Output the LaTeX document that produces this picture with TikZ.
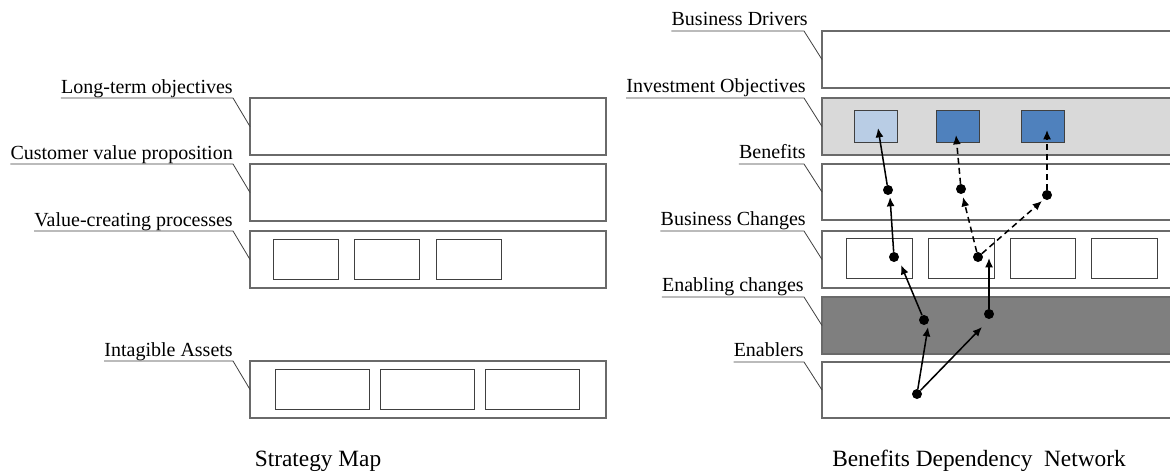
\documentclass[tikz,border=0pt]{standalone}
\usepackage{fontspec}
\setmainfont{Liberation Serif}
\usetikzlibrary{arrows.meta}
\definecolor{boxline}{HTML}{6A6A6A}
\definecolor{innerline}{HTML}{404040}
\definecolor{iogray}{HTML}{D9D9D9}
\definecolor{ecgray}{HTML}{7F7F7F}
\definecolor{lightblue}{HTML}{B9CDE5}
\definecolor{midblue}{HTML}{4F81BD}
\tikzset{
  sz/.style 2 args={minimum width=#1*0.75pt, minimum height=#2*0.75pt},
  box/.style={draw=boxline, line width=0.8pt, rectangle, inner sep=0pt, outer sep=0pt, anchor=north west},
  ibox/.style={draw=innerline, line width=0.7pt, rectangle, inner sep=0pt, outer sep=0pt, anchor=north west},
  lbl/.style={font=\fontsize{15}{18}\selectfont, inner sep=0pt, anchor=base east},
  ttl/.style={font=\fontsize{17.5}{21}\selectfont, inner sep=0pt, anchor=base},
  lead/.style={draw=black!75, line width=0.6pt},
  dot/.style={circle, fill=black, inner sep=0pt, minimum size=7.5pt},
  arr/.style={line width=1.15pt, -{Latex[length=7pt,width=6pt]}},
  darr/.style={arr, dash pattern=on 4.5pt off 3pt},
}
\begin{document}
\begin{tikzpicture}[x=0.75pt, y=-0.75pt]
\useasboundingbox (0,0) rectangle (1170,472);
\clip (0,0) rectangle (1170,472);
\fill[white] (0,0) rectangle (1170,472);

% ---------- Strategy Map ----------
\node[box, sz={356}{57}] (bLT) at (250,98) {};
\node[box, sz={356}{57}] (bCV) at (250,164) {};
\node[box, sz={356}{57}] (bVC) at (250,231) {};
\node[box, sz={356}{57}] (bIA) at (250,361) {};

\node[ibox, sz={65}{40}] (vc1) at (273,239) {};
\node[ibox, sz={65}{40}] (vc2) at (354,239) {};
\node[ibox, sz={65}{40}] (vc3) at (436,239) {};

\node[ibox, sz={94}{40}] (ia1) at (275,369) {};
\node[ibox, sz={94}{40}] (ia2) at (380,369) {};
\node[ibox, sz={94}{40}] (ia3) at (485,369) {};

\node[lbl] (lLT) at (233,93) {Long-term objectives};
\node[lbl] (lCV) at (233,159) {Customer value proposition};
\node[lbl] (lVC) at (233,226) {Value-creating processes};
\node[lbl] (lIA) at (233,356) {Intagible Assets};

\draw[lead] (lLT.west |- bLT.north) -- (lLT.east |- bLT.north) -- (bLT.west);
\draw[lead] (lCV.west |- bCV.north) -- (lCV.east |- bCV.north) -- (bCV.west);
\draw[lead] (lVC.west |- bVC.north) -- (lVC.east |- bVC.north) -- (bVC.west);
\draw[lead] (lIA.west |- bIA.north) -- (lIA.east |- bIA.north) -- (bIA.west);

\node[ttl] (tSM) at (318,466) {Strategy Map};

% ---------- Benefits Dependency Network ----------
\node[box, sz={360}{57}] (bBD) at (822,31) {};
\node[box, sz={360}{57}, fill=iogray] (bIO) at (822,98) {};
\node[box, sz={360}{56}] (bBen) at (822,164) {};
\node[box, sz={360}{57}] (bBC) at (822,231) {};
\node[box, sz={360}{57}, fill=ecgray] (bEC) at (822,297) {};
\node[box, sz={360}{56}] (bEn) at (822,362) {};

\node[ibox, sz={43}{32}, fill=lightblue] (io1) at (854,110) {};
\node[ibox, sz={43}{32}, fill=midblue] (io2) at (936,110) {};
\node[ibox, sz={43}{32}, fill=midblue] (io3) at (1021,110) {};

\node[ibox, sz={66}{40}] (bc1) at (846,238) {};
\node[ibox, sz={66}{40}] (bc2) at (928,238) {};
\node[ibox, sz={65}{40}] (bc3) at (1010,238) {};
\node[ibox, sz={66}{40}] (bc4) at (1091,238) {};

\node[lbl] (lBD) at (808,25) {Business Drivers};
\node[lbl] (lIO) at (806,92) {Investment Objectives};
\node[lbl] (lBen) at (806,158) {Benefits};
\node[lbl] (lBC) at (806,225) {Business Changes};
\node[lbl] (lEC) at (804,291) {Enabling changes};
\node[lbl] (lEn) at (804,356) {Enablers};

\draw[lead] (lBD.west |- bBD.north) -- (804,31) -- (bBD.west);
\draw[lead] (lIO.west |- bIO.north) -- (804,98) -- (bIO.west);
\draw[lead] (lBen.west |- bBen.north) -- (804,164) -- (bBen.west);
\draw[lead] (lBC.west |- bBC.north) -- (804,231) -- (bBC.west);
\draw[lead] (lEC.west |- bEC.north) -- (804,297) -- (bEC.west);
\draw[lead] (lEn.west |- bEn.north) -- (804,362) -- (bEn.west);

\node[ttl] (tBDN) at (979,466) {Benefits Dependency\ \ Network};

% dots
\node[dot] (d1) at (888,190) {};
\node[dot] (d2) at (961,189) {};
\node[dot] (d3) at (1047,195) {};
\node[dot] (d4) at (894,257) {};
\node[dot] (d5) at (978,257) {};
\node[dot] (d6) at (924,320) {};
\node[dot] (d7) at (989,314) {};
\node[dot] (d8) at (917,394) {};

% solid connectors
\draw[arr] (d8) -- ([shift={(4,7)}]d6.center);
\draw[arr] (d8) -- ([shift={(-7,13)}]d7.center);
\draw[arr] (d6) -- ([shift={(7,8)}]d4.center);
\draw[arr] (d4) -- ([shift={(2,7)}]d1.center);
\draw[arr] (d1) -- ([shift={(2.5,2)}]io1.center);
\draw[arr] (d7) -- ([shift={(11,1)}]d5.center);

% dashed connectors
\draw[darr] (d5) -- ([shift={(2,8)}]d2.center);
\draw[darr] (d2) -- ([shift={(-1.5,9)}]io2.center);
\draw[darr] (d5) -- ([shift={(-5,6)}]d3.center);
\draw[darr] (d3) -- ([shift={(4.5,4)}]io3.center);
\end{tikzpicture}
\end{document}
